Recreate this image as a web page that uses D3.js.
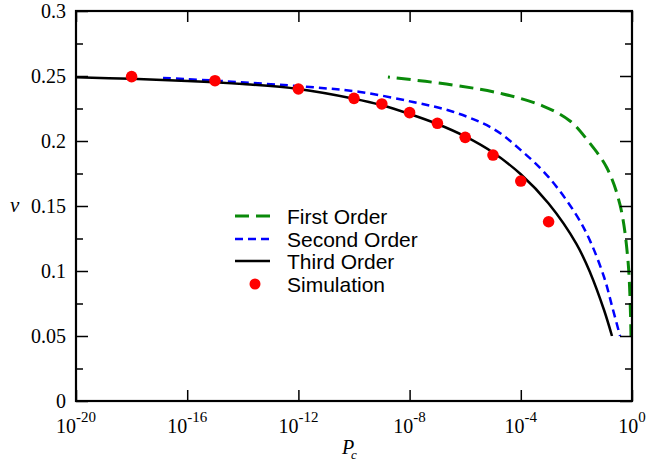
<!DOCTYPE html>
<html>
<head>
<meta charset="utf-8">
<script src="https://cdn.jsdelivr.net/npm/d3@7"></script>
<style>
  body { margin: 0; background: #fff; }
  svg { display: block; }
</style>
</head>
<body>
<div id="box"></div>
<script>
// data (log10 Pc, v)
var firstLogP  = [-8.78, -6.44, -4.64, -3.2, -2.23, -1.58, -0.9, -0.43, -0.14, -0.036];
var firstV     = [0.2492, 0.2431, 0.2362, 0.2269, 0.2154, 0.2000, 0.1792, 0.1508, 0.1069, 0.05];

var secondLogP = [-16.87, -14.82, -11.58, -9.78, -7.88, -6.44, -5, -4, -3, -2, -1.5, -1, -0.7, -0.43];
var secondV    = [0.2485, 0.2462, 0.2415, 0.2377, 0.2300, 0.2225, 0.2095, 0.193, 0.1722, 0.143, 0.1228, 0.095, 0.0715, 0.05];

var thirdLogP  = [-20, -18, -16, -14, -12, -10, -9, -8, -7, -6, -5, -4, -3, -2, -1.5, -1, -0.72];
var thirdV     = [0.249, 0.2478, 0.2462, 0.2438, 0.2400, 0.2325, 0.2275, 0.2208, 0.2131, 0.2035, 0.1911, 0.1744, 0.1519, 0.1209, 0.0985, 0.0696, 0.05];

var simLogP    = [-18, -15, -12, -10, -9, -8, -7, -6, -5, -4, -3];
var simV       = [0.2495, 0.2464, 0.2400, 0.2328, 0.2285, 0.2218, 0.2136, 0.2028, 0.1892, 0.1692, 0.1379];

var xTickExp = [-20, -16, -12, -8, -4, 0];
var yTicks = [0, 0.05, 0.1, 0.15, 0.2, 0.25, 0.3];
var yMinor = [0.025, 0.075, 0.125, 0.175, 0.225, 0.275];

var legendNames = ["First Order", "Second Order", "Third Order", "Simulation"];

var width = 647, height = 462;
var plotL = 76, plotR = 632, plotT = 11, plotB = 401;

var svg = d3.select("#box").append("svg")
  .attr("width", width)
  .attr("height", height);

var x = d3.scaleLog().domain([1e-20, 1]).range([plotL, plotR]);
var y = d3.scaleLinear().domain([0, 0.3]).range([plotB, plotT]);

function pairs(lp, v) {
  return lp.map(function(d, i) { return [Math.pow(10, d), v[i]]; });
}

var line = d3.line()
  .x(function(d) { return x(d[0]); })
  .y(function(d) { return y(d[1]); })
  .curve(d3.curveCatmullRom.alpha(0.5));

// curves
svg.append("path")
  .datum(pairs(firstLogP, firstV))
  .attr("d", line)
  .attr("fill", "none")
  .attr("stroke", "#0a8a0a")
  .attr("stroke-width", 3)
  .attr("stroke-dasharray", "14,7")
  .attr("stroke-dashoffset", 12);

svg.append("path")
  .datum(pairs(secondLogP, secondV))
  .attr("d", line)
  .attr("fill", "none")
  .attr("stroke", "#0000ff")
  .attr("stroke-width", 2.5)
  .attr("stroke-dasharray", "8,5");

svg.append("path")
  .datum(pairs(thirdLogP, thirdV))
  .attr("d", line)
  .attr("fill", "none")
  .attr("stroke", "#000")
  .attr("stroke-width", 2.5);

svg.selectAll("circle.sim")
  .data(pairs(simLogP, simV))
  .enter().append("circle")
  .attr("class", "sim")
  .attr("cx", function(d) { return x(d[0]); })
  .attr("cy", function(d) { return y(d[1]); })
  .attr("r", 5.8)
  .attr("fill", "#ff0000");

// axes: ticks inward, mirrored on all sides
var axes = svg.append("g");
var xt = xTickExp.map(function(e) { return Math.pow(10, e); });

axes.append("g")
  .attr("transform", "translate(0," + plotB + ")")
  .call(d3.axisBottom(x).tickValues(xt).tickSize(-11).tickFormat(""));
axes.append("g")
  .attr("transform", "translate(0," + plotT + ")")
  .call(d3.axisTop(x).tickValues(xt).tickSize(-11).tickFormat(""));
axes.append("g")
  .attr("transform", "translate(" + plotL + ",0)")
  .call(d3.axisLeft(y).tickValues(yTicks).tickSize(-12).tickFormat(""));
axes.append("g")
  .attr("transform", "translate(" + plotR + ",0)")
  .call(d3.axisRight(y).tickValues(yTicks).tickSize(-12).tickFormat(""));
axes.append("g")
  .attr("transform", "translate(" + plotL + ",0)")
  .call(d3.axisLeft(y).tickValues(yMinor).tickSize(-7).tickFormat(""));
axes.append("g")
  .attr("transform", "translate(" + plotR + ",0)")
  .call(d3.axisRight(y).tickValues(yMinor).tickSize(-7).tickFormat(""));

axes.selectAll(".domain").remove();
axes.selectAll(".tick line").attr("stroke", "#000").attr("stroke-width", 1.5);

svg.append("rect")
  .attr("x", plotL).attr("y", plotT)
  .attr("width", plotR - plotL).attr("height", plotB - plotT)
  .attr("fill", "none")
  .attr("stroke", "#000")
  .attr("stroke-width", 2.2);

// tick labels
var serif = "'Liberation Serif', 'Times New Roman', serif";

svg.selectAll("text.ylab")
  .data(yTicks)
  .enter().append("text")
  .attr("class", "ylab")
  .attr("x", 66)
  .attr("y", function(d) { return y(d); })
  .attr("dy", "0.33em")
  .attr("text-anchor", "end")
  .style("font-family", serif)
  .style("font-size", "20px")
  .text(function(d) { return d === 0 ? "0" : String(+d.toFixed(2)); });

var xl = svg.selectAll("text.xlab")
  .data(xTickExp)
  .enter().append("text")
  .attr("class", "xlab")
  .attr("x", function(d) { return x(Math.pow(10, d)); })
  .attr("y", 433)
  .attr("text-anchor", "middle")
  .style("font-family", serif)
  .style("font-size", "20px");
xl.append("tspan").text("10");
xl.append("tspan")
  .attr("dy", -11)
  .style("font-size", "15px")
  .text(function(d) { return String(d); });

// axis titles
svg.append("text")
  .attr("x", 342)
  .attr("y", 454)
  .style("font-family", serif)
  .style("font-size", "20px")
  .style("font-style", "italic")
  .text("P");
svg.append("text")
  .attr("x", 351)
  .attr("y", 459)
  .style("font-family", serif)
  .style("font-size", "13px")
  .style("font-style", "italic")
  .text("c");

svg.append("text")
  .attr("x", 10)
  .attr("y", 212)
  .style("font-family", serif)
  .style("font-size", "21px")
  .style("font-style", "italic")
  .text("v");

// legend
var sans = "'Liberation Sans', Arial, sans-serif";
var legY = [216, 239, 261, 284];
var lg = svg.append("g");

lg.append("line")
  .attr("x1", 235).attr("x2", 270)
  .attr("y1", legY[0]).attr("y2", legY[0])
  .attr("stroke", "#0a8a0a").attr("stroke-width", 3)
  .attr("stroke-dasharray", "14,7");
lg.append("line")
  .attr("x1", 235).attr("x2", 270)
  .attr("y1", legY[1]).attr("y2", legY[1])
  .attr("stroke", "#0000ff").attr("stroke-width", 2.5)
  .attr("stroke-dasharray", "8,5");
lg.append("line")
  .attr("x1", 235).attr("x2", 270)
  .attr("y1", legY[2]).attr("y2", legY[2])
  .attr("stroke", "#000").attr("stroke-width", 2.5);
lg.append("circle")
  .attr("cx", 255).attr("cy", legY[3])
  .attr("r", 5.5)
  .attr("fill", "#ff0000");

lg.selectAll("text")
  .data(legendNames)
  .enter().append("text")
  .attr("x", 287)
  .attr("y", function(d, i) { return legY[i] + 8; })
  .style("font-family", sans)
  .style("font-size", "21px")
  .text(function(d) { return d; });
</script>
</body>
</html>
